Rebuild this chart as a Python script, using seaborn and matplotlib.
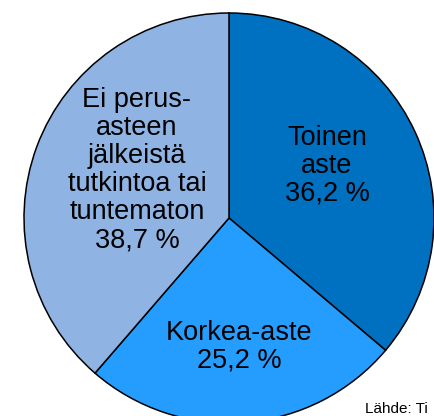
import matplotlib
matplotlib.use("Agg")
import matplotlib.pyplot as plt
import seaborn as sns

# data
categories = ["Toinen\naste", "Korkea-aste", "Ei perus-\nasteen\njälkeistä\ntutkintoa tai\ntuntematon"]
shares = [36.2, 25.2, 38.7]
colors = ["#0070C0", "#259DFF", "#8FB4E3"]
label_pos = [(0.478, 0.254), (0.049, -0.629), (-0.449, 0.234)]
source = "Lähde: Ti"   # source line, cut by the right edge in the original

sns.set_theme(style="white")
plt.rcParams['font.family'] = ['Liberation Sans', 'DejaVu Sans']

fig = plt.figure(figsize=(4.35, 4.16), dpi=100)
# pie centre ~ (229, 218) px, radius ~205 px
ax = fig.add_axes([24 / 435, -7 / 416, 410 / 435, 410 / 416])

ax.pie(shares, colors=colors, startangle=90, counterclock=False, radius=1,
       wedgeprops=dict(edgecolor="black", linewidth=1.1))

for cat, val, (x, y) in zip(categories, shares, label_pos):
    txt = f"{cat}\n{val:.1f} %".replace(".", ",")
    ax.text(x, y, txt, ha="center", va="center", fontsize=19.5,
            linespacing=1.1, color="black")

ax.set_xlim(-1, 1)
ax.set_ylim(-1, 1)
ax.set_aspect("equal")
ax.axis("off")

fig.text(365 / 435, 3 / 416, source, ha="left", va="baseline",
         fontsize=11, color="black")

fig.savefig("out.png", dpi=100)
